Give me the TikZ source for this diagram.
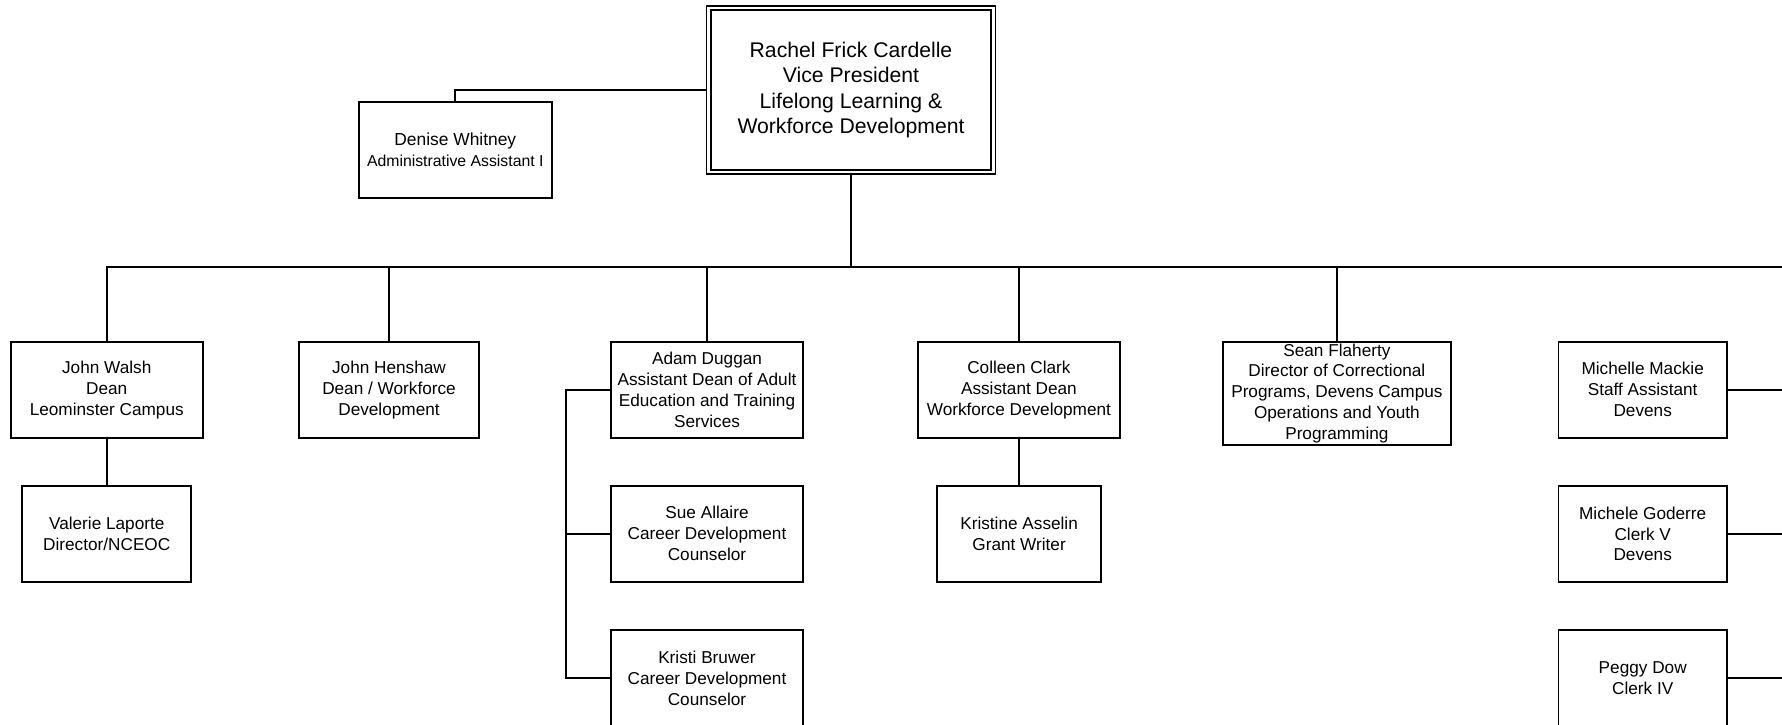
\documentclass[tikz,border=0pt]{standalone}
\usepackage{fontspec}
\setmainfont{Liberation Sans}
\begin{document}
\begin{tikzpicture}[x=0.5pt,y=-0.5pt,
  box/.style={draw, line width=0.9pt, rectangle, inner sep=0pt, outer sep=0pt,
    align=center, font=\fontsize{8.6}{10.45}\selectfont},
  std/.style={box, minimum height=48pt},
  link/.style={line width=0.9pt}]
\useasboundingbox (0,0) rectangle (1782,724);

% top
\node[box, double, double distance=1.4pt, line width=0.8pt, outer sep=1.5pt,
  minimum width=142.4pt, minimum height=82pt,
  font=\fontsize{10.6}{12.65}\selectfont] (vp) at (851,90)
  {Rachel Frick Cardelle\\Vice President\\Lifelong Learning \&\\Workforce Development};

\node[box, minimum width=96.3pt, minimum height=48.2pt] (den) at (455.3,150)
  {\fontsize{8.7}{10}\selectfont Denise Whitney\\\fontsize{7.9}{10}\selectfont Administrative Assistant I};

% second row
\node[std, minimum width=96pt] (walsh) at (106.75,389.7) {John Walsh\\Dean\\Leominster Campus};
\node[std, minimum width=90pt] (hensh) at (389,389.7) {John Henshaw\\Dean / Workforce\\Development};
\node[std, minimum width=96.3pt] (adam) at (707,390) {Adam Duggan\\Assistant Dean of Adult\\Education and Training\\Services};
\node[std, minimum width=100.9pt] (coll) at (1018.9,390) {Colleen Clark\\Assistant Dean\\Workforce Development};
\node[box, minimum width=114.2pt, minimum height=51.65pt] (sean) at (1336.9,393.35) {Sean Flaherty\\Director of Correctional\\Programs, Devens Campus\\Operations and Youth\\Programming};
\node[std, minimum width=84.3pt] (mack) at (1642.7,389.7) {Michelle Mackie\\Staff Assistant\\Devens};

% third row
\node[std, minimum width=84.5pt] (val) at (106.75,533.85) {Valerie Laporte\\Director/NCEOC};
\node[std, minimum width=96.3pt] (sue) at (707,533.7) {Sue Allaire\\Career Development\\Counselor};
\node[std, minimum width=81.9pt] (kris) at (1019.1,533.7) {Kristine Asselin\\Grant Writer};
\node[std, minimum width=84.3pt] (gode) at (1642.7,533.85) {Michele Goderre\\Clerk V\\Devens};

% fourth row
\node[std, minimum width=96.3pt] (bruw) at (707,678) {Kristi Bruwer\\Career Development\\Counselor};
\node[std, minimum width=84.3pt] (peggy) at (1642.7,678) {Peggy Dow\\Clerk IV};

% connectors
\coordinate (busL) at (106.4,267.3);
\coordinate (busR) at (1782,267.3);
\coordinate (brx) at (565.6,0);
\coordinate (rx) at (1782,0);

\draw[link] (den.north) |- (vp.west);
\draw[link] (vp.south) -- (vp.south |- busL);
\draw[link] (busL) -- (busR);
\foreach \n in {walsh,hensh,adam,coll,sean}
  \draw[link] (\n.north) -- (\n.north |- busL);
\draw[link] (walsh.south) -- (val.north);
\draw[link] (coll.south) -- (coll.south |- kris.north);
\draw[link] (adam.west) -- (adam.west -| brx) |- (bruw.west);
\draw[link] (sue.west) -- (sue.west -| brx);
\foreach \n in {mack,gode,peggy}
  \draw[link] (\n.east) -- (\n.east -| rx);
\end{tikzpicture}
\end{document}
